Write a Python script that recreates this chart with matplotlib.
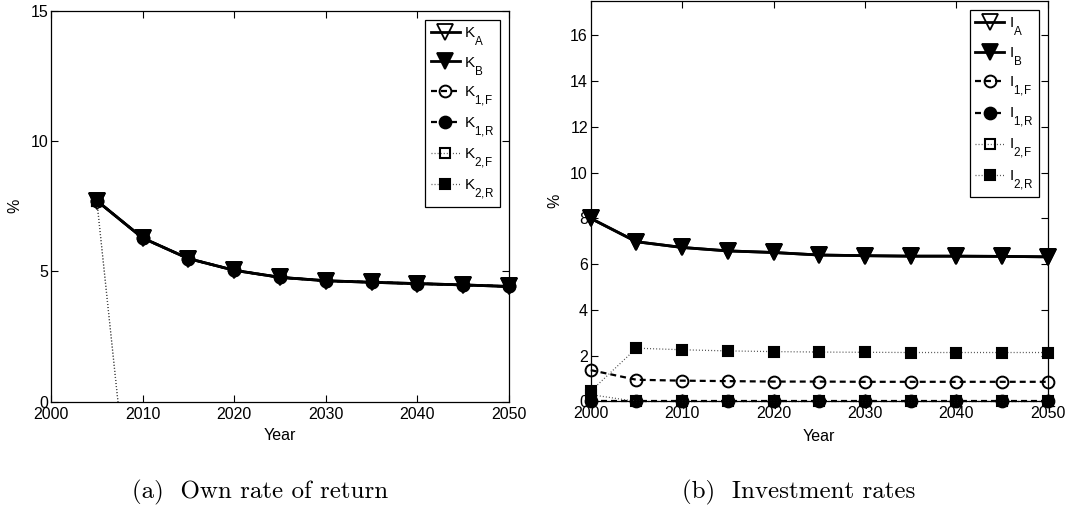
import numpy as np
import matplotlib
matplotlib.use("Agg")
import matplotlib.pyplot as plt
import matplotlib._mathtext as mathtext_core

plt.rcParams["font.family"] = ["Liberation Sans", "DejaVu Sans"]
plt.rcParams["mathtext.fontset"] = "custom"
plt.rcParams["mathtext.rm"] = "Liberation Sans"
plt.rcParams["mathtext.it"] = "Liberation Sans"
plt.rcParams["mathtext.bf"] = "Liberation Sans:bold"
plt.rcParams["lines.scale_dashes"] = False

# deeper subscripts in the legend labels
mathtext_core.FontConstantsBase.sub1 = 1.0
mathtext_core.SHRINK_FACTOR = 0.76

nan = np.nan
years = [2000, 2005, 2010, 2015, 2020, 2025, 2030, 2035, 2040, 2045, 2050]

# Own rate of return (%)
k_a = [nan, 7.71, 6.28, 5.49, 5.04, 4.77, 4.64, 4.58, 4.53, 4.48, 4.42]
k_b = [nan, 7.71, 6.28, 5.49, 5.04, 4.77, 4.64, 4.58, 4.53, 4.48, 4.42]
k_1f = [nan, 7.71, 6.28, 5.49, 5.04, 4.77, 4.64, 4.58, 4.53, 4.48, 4.42]
k_1r = [nan, 7.71, 6.28, 5.49, 5.04, 4.77, 4.64, 4.58, 4.53, 4.48, 4.42]
k_2f = [nan, 7.71, -9.0, -9.0, -9.0, -9.0, -9.0, -9.0, -9.0, -9.0, -9.0]
k_2r = [nan, 7.71, -9.0, -9.0, -9.0, -9.0, -9.0, -9.0, -9.0, -9.0, -9.0]

# Investment rates (%)
i_a = [8.00, 6.98, 6.73, 6.58, 6.51, 6.40, 6.37, 6.35, 6.35, 6.34, 6.32]
i_b = [8.00, 6.98, 6.73, 6.58, 6.51, 6.40, 6.37, 6.35, 6.35, 6.34, 6.32]
i_1f = [1.37, 0.95, 0.91, 0.89, 0.87, 0.87, 0.86, 0.86, 0.86, 0.86, 0.86]
i_1r = [0.00, 0.00, 0.00, 0.00, 0.00, 0.00, 0.00, 0.00, 0.00, 0.00, 0.00]
i_2f = [0.30, 0.00, 0.00, 0.00, 0.00, 0.00, 0.00, 0.00, 0.00, 0.00, 0.00]
i_2r = [0.45, 2.33, 2.26, 2.21, 2.18, 2.16, 2.15, 2.14, 2.14, 2.14, 2.14]

k_labels = [r"$\mathregular{K_{A}}$", r"$\mathregular{K_{B}}$", r"$\mathregular{K_{1,\!F}}$",
            r"$\mathregular{K_{1,\!R}}$", r"$\mathregular{K_{2,\!F}}$", r"$\mathregular{K_{2,\!R}}$"]
i_labels = [r"$\mathregular{I_{A}}$", r"$\mathregular{I_{B}}$", r"$\mathregular{I_{1,\!F}}$",
            r"$\mathregular{I_{1,\!R}}$", r"$\mathregular{I_{2,\!F}}$", r"$\mathregular{I_{2,\!R}}$"]

DASH = (4.3, 2.9)
DOT = (0.7, 1.5)
styles = [
    dict(ls="-", lw=2.0, color="black", marker="v", ms=11, mfc="none", mew=1.3),
    dict(ls="-", lw=2.0, color="black", marker="v", ms=11, mfc="black", mew=1.3),
    dict(ls=(0, DASH), lw=1.6, color="black", marker="o", ms=8.5, mfc="none", mew=1.4),
    dict(ls=(0, DASH), lw=1.6, color="black", marker="o", ms=8.5, mfc="black", mew=1.4),
    dict(ls=(0, DOT), lw=0.9, color="0.3", marker="s", ms=7, mec="black", mfc="none", mew=1.5),
    dict(ls=(0, DOT), lw=0.9, color="0.3", marker="s", ms=7, mec="black", mfc="black", mew=1.5),
]

fig = plt.figure(figsize=(10.7, 5.11), dpi=100)
ax1 = fig.add_axes([0.0477, 0.2139, 0.4280, 0.7652])
ax2 = fig.add_axes([0.5521, 0.2143, 0.4271, 0.7838])


def style_axes(ax, ylim, yticks):
    ax.set_xlim(2000, 2050)
    ax.set_ylim(*ylim)
    ax.set_xticks(range(2000, 2051, 10))
    ax.set_yticks(yticks)
    ax.tick_params(direction="in", length=5, width=0.8, top=True, right=True,
                   labelsize=11.5, colors="black")
    ax.tick_params(axis="x", pad=3.5)
    ax.tick_params(axis="y", pad=2)
    for s in ax.spines.values():
        s.set_linewidth(0.9)
    ax.set_xlabel("Year", fontsize=11.5)
    ax.set_ylabel("%", fontsize=11.5)
    ax.xaxis.set_label_coords(0.5, -0.068)
    ax.yaxis.set_label_coords(-0.063, 0.5)


# Own rate of return
k_series = [k_a, k_b, k_1f, k_1r, k_2f, k_2r]
for idx, (vals, lab, st) in enumerate(zip(k_series, k_labels, styles)):
    ax1.plot(years, vals, label=lab, clip_on=idx >= 4, **st)
style_axes(ax1, (0, 15), [0, 5, 10, 15])

# Investment rates
i_series = [i_a, i_b, i_1f, i_1r, i_2f, i_2r]
for vals, lab, st in zip(i_series, i_labels, styles):
    ax2.plot(years, vals, label=lab, clip_on=False, **st)
style_axes(ax2, (0, 17.5), list(range(0, 17, 2)))

for ax in (ax1, ax2):
    leg = ax.legend(loc="upper right", fontsize=11, frameon=True, fancybox=False,
                    edgecolor="black", framealpha=1, handlelength=1.9,
                    handletextpad=0.3, labelspacing=0.5, borderpad=0.35,
                    borderaxespad=0.6)
    leg.get_frame().set_linewidth(0.9)

fig.text(0.243, 0.0254, "(a)  Own rate of return", family="cmr10", fontsize=18,
         ha="center", va="baseline")
fig.text(0.746, 0.0254, "(b)  Investment rates", family="cmr10", fontsize=18,
         ha="center", va="baseline")

fig.savefig("out.png", dpi=100)
